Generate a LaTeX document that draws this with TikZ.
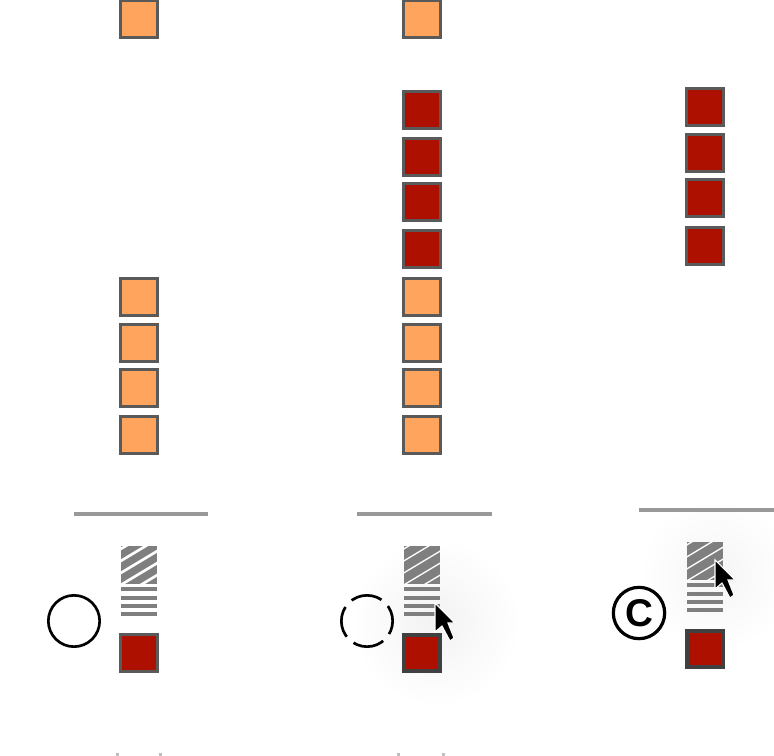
\documentclass[tikz,border=0pt]{standalone}
\usepackage{fontspec}
\setmainfont{Liberation Sans}
\definecolor{lightcell}{HTML}{FFA45C}
\definecolor{darkcell}{HTML}{AE1000}
\definecolor{cellframe}{HTML}{5A5A5A}
\definecolor{activeframe}{HTML}{404040}
\definecolor{hatchgray}{HTML}{7F7F7F}
\definecolor{rulegray}{HTML}{999999}
\tikzset{
  cell/.style = {draw=cellframe, line width=2pt, minimum size=28pt, inner sep=0pt},
  lightbox/.style = {cell, fill=lightcell},
  darkbox/.style = {cell, fill=darkcell},
  activebox/.style = {darkbox, draw=activeframe, line width=3.2pt, minimum size=27.5pt},
  ring/.style = {circle, draw=black, line width=2pt, minimum size=38.5pt, inner sep=0pt},
  baseline rule/.style = {draw=rulegray, line width=2.8pt},
  tickline/.style = {draw=hatchgray, line width=3.4pt},
  pointer/.style = {fill=black, draw=white, line width=.8pt, line join=miter}
}
% one pixel of the reference is one unit
\newcommand{\stack}[4]{% #1 = left end of the hatch, #2 = top of the hatch, #3 = name, #4 = stripe
  \fill[hatchgray] (#1,#2) rectangle ++(36,38);
  \begin{scope}
    \clip (#1,#2) rectangle ++(36,38);
    \foreach \off in {4,16,28,40,52,64}
      \draw[white, line width=#4] (#1-2,#2+\off) -- ++(40,-24);
  \end{scope}
  \foreach \off/\lab in {43/a,52/b,60/c,68/d}{
    \coordinate (#3\lab l) at (#1,#2+\off);
    \coordinate (#3\lab r) at (#1+36,#2+\off);
    \draw[tickline] (#3\lab l) -- (#3\lab r);
  }
}
\newcommand{\cursor}[2]{%
  \filldraw[pointer] (#1,#2) -- ++(0,29) -- ++(7,-6) -- ++(8,15) -- ++(4,-3) -- ++(-6,-15) -- ++(7,0) -- cycle;
}
\begin{document}
\begin{tikzpicture}[x=.75pt,y=-.75pt]
  \useasboundingbox (0,0) rectangle (774,756);
  \begin{scope}
    \clip (0,0) rectangle (774,756);

    % soft shadows under the pointers
    \shade[inner color=black!5, outer color=white] (436,622) circle (84);
    \shade[inner color=black!4, outer color=white] (716,575) circle (76);

    % left column
    \foreach \ypos/\name in {19/la,297/lb,343/lc,388/ld,435/le}
      \node[lightbox] (\name) at (139,\ypos) {};

    % middle column
    \foreach \ypos/\name in {19/ma,297/mb,343/mc,388/md,435/me}
      \node[lightbox] (\name) at (422,\ypos) {};
    \foreach \ypos/\name in {110/mf,157/mg,202/mh,249/mi}
      \node[darkbox] (\name) at (422,\ypos) {};

    % right column
    \foreach \ypos/\name in {107/ra,153/rb,198/rc,246/rd}
      \node[darkbox] (\name) at (705,\ypos) {};

    % rules
    \coordinate (ruleAl) at (74,514);
    \coordinate (ruleAr) at (208,514);
    \coordinate (ruleBl) at (357,514);
    \coordinate (ruleBr) at (492,514);
    \coordinate (ruleCl) at (639,510);
    \coordinate (ruleCr) at (774,510);
    \draw[baseline rule] (ruleAl) -- (ruleAr);
    \draw[baseline rule] (ruleBl) -- (ruleBr);
    \draw[baseline rule] (ruleCl) -- (ruleCr);

    % hatch and lines
    \stack{121}{546}{sa}{2pt}
    \stack{404}{546}{sb}{1pt}
    \stack{687}{542}{sc}{1pt}

    % bottom boxes
    \node[darkbox] (boxA) at (139,653) {};
    \node[activebox] (boxB) at (422,653) {};
    \node[activebox] (boxC) at (705,649) {};

    % rings
    \node[ring] (ringA) at (74,621) {};
    \node[ring, dash pattern=on 23.8pt off 6.8pt, dash phase=11.9pt] (ringB) at (367,621) {};
    \node[ring, line width=2.4pt, font=\bfseries\fontsize{29}{29}\selectfont] (ringC) at (639,613) {C};

    \cursor{435}{603}
    \cursor{715}{560}

    % cut off marks along the bottom edge
    \foreach \xpos in {117,160,398,443}
      \fill[black!25] (\xpos-1,753) rectangle ++(3,3);
  \end{scope}
\end{tikzpicture}
\end{document}
